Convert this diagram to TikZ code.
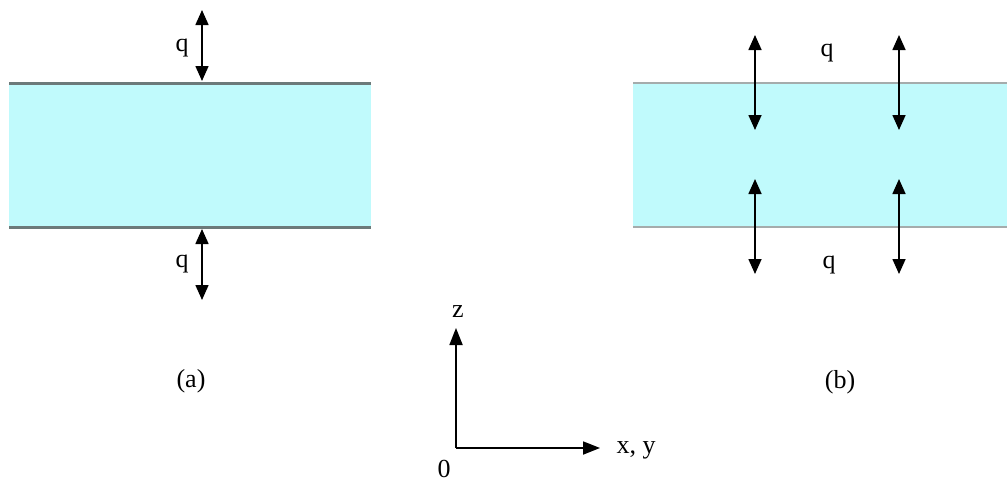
\documentclass[tikz,border=0pt]{standalone}
\usepackage{fontspec}
\setmainfont{Liberation Serif}
\usetikzlibrary{arrows.meta}
\definecolor{slabfill}{RGB}{192,250,252}
\definecolor{edgedark}{RGB}{108,122,122}
\definecolor{edgelight}{RGB}{165,172,172}
\tikzset{
  dblarrow/.style={line width=1.6pt, {Triangle[width=13pt,length=15pt]}-{Triangle[width=13pt,length=15pt]}},
  axisarrow/.style={line width=1.8pt, -{Triangle[width=13pt,length=17pt]}},
  lbl/.style={inner sep=0pt, font=\fontsize{26}{30}\selectfont},
}
\begin{document}
\begin{tikzpicture}[x=1pt,y=-1pt]
\useasboundingbox (0,0) rectangle (1007,482);
% left slab (a)
\fill[slabfill] (9,83) rectangle (371,227);
\draw[edgedark, line width=3pt] (9,83) -- (371,83);
\draw[edgedark, line width=3pt] (9,227) -- (371,227);
% right slab (b)
\fill[slabfill] (633,83) rectangle (1007,227);
\draw[edgelight, line width=2pt] (633,83) -- (1007,83);
\draw[edgelight, line width=2pt] (633,227) -- (1007,227);
% arrows (a)
\coordinate (a1t) at (202,10);
\coordinate (a1b) at (202,81);
\coordinate (a2t) at (202,229);
\coordinate (a2b) at (202,300);
\draw[dblarrow] (a1t) -- (a1b);
\draw[dblarrow] (a2t) -- (a2b);
\node[lbl] (qa1) at (182,48) {q};
\node[lbl] (qa2) at (182,264) {q};
% arrows (b)
\coordinate (b1t) at (755,35);
\coordinate (b1b) at (755,130);
\coordinate (b2t) at (899,35);
\coordinate (b2b) at (899,130);
\coordinate (b3t) at (755,179);
\coordinate (b3b) at (755,274);
\coordinate (b4t) at (899,179);
\coordinate (b4b) at (899,274);
\draw[dblarrow] (b1t) -- (b1b);
\draw[dblarrow] (b2t) -- (b2b);
\draw[dblarrow] (b3t) -- (b3b);
\draw[dblarrow] (b4t) -- (b4b);
\node[lbl] (qb1) at (827,53) {q};
\node[lbl] (qb2) at (829,265) {q};
% captions
\node[lbl] (capa) at (191,381) {(a)};
\node[lbl] (capb) at (840,382) {(b)};
% axes
\coordinate (o) at (456,448);
\coordinate (zt) at (456,328);
\coordinate (xt) at (600,448);
\draw[axisarrow] (o) -- (zt);
\draw[axisarrow] (o) -- (xt);
\node[lbl] (zl) at (458,312) {z};
\node[lbl] (xl) at (636,450) {x, y};
\node[lbl] (ol) at (444,469) {0};
\end{tikzpicture}
\end{document}
